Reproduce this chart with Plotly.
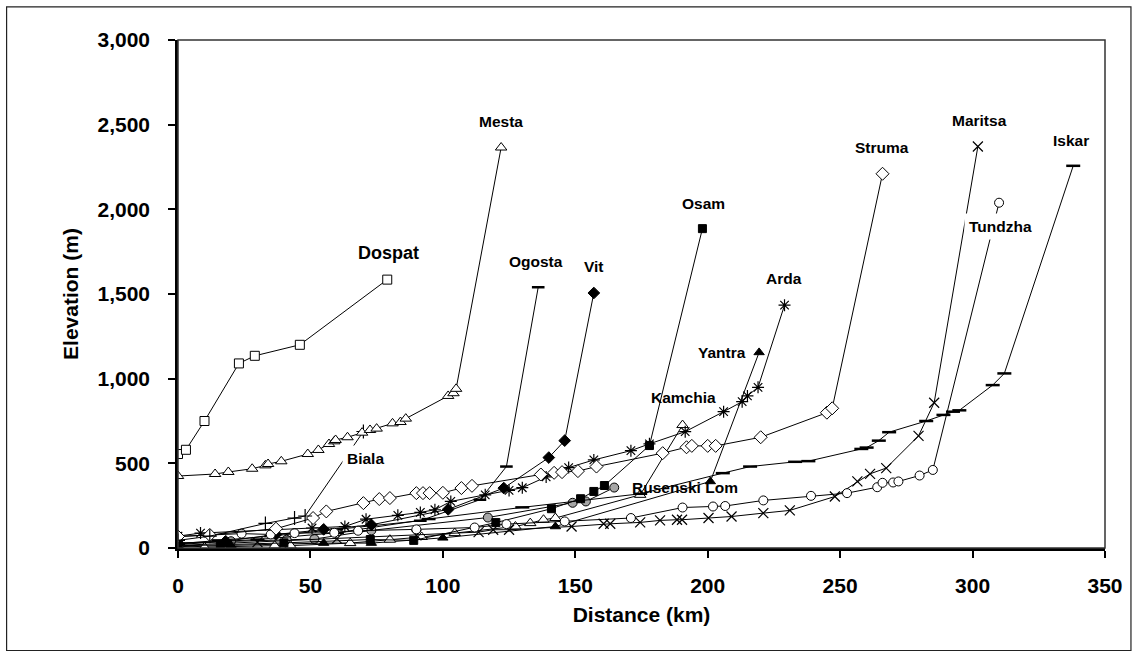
import plotly.graph_objects as go

# River longitudinal profiles: distance from mouth (km) vs elevation (m)
dospat_x = [0, 3, 10, 23, 29, 46, 79]
dospat_y = [555, 580, 750, 1090, 1135, 1200, 1585]

mesta_x = [0, 14, 19, 28, 33, 34, 39, 49, 53, 57, 59, 59.5, 64, 69.5, 72.5, 75, 81, 84, 86, 102, 104, 105, 122]
mesta_y = [425, 437, 449, 468, 488, 496, 512, 555, 579, 614, 630, 638, 654, 681, 697, 705, 736, 744, 764, 898, 914, 940, 2365]

biala_x = [0, 12, 33, 44, 48, 70]
biala_y = [45, 70, 145, 177, 189, 688]

ogosta_x = [0, 15, 35, 60, 91.5, 114, 124, 136]
ogosta_y = [25, 45, 70, 110, 161, 285, 481, 1540]

vit_x = [0, 18, 37, 55, 73, 102, 123, 140, 146, 157]
vit_y = [20, 40, 80, 110, 137, 228, 354, 534, 634, 1506]

osam_x = [0, 16, 40, 72.6, 89, 120, 141, 152, 157, 161, 178, 198]
osam_y = [12, 19, 30, 50, 45, 150, 232, 291, 334, 369, 605, 1886]

kamchia_x = [0, 10, 36.5, 42.5, 65, 80, 92, 104.5, 127.4, 133, 138, 142.5, 174.5, 190.5]
kamchia_y = [20, 5, 14, 14, 29, 49, 65, 88, 127, 147, 167, 177, 314, 726]

yantra_x = [0, 20, 55, 73, 100, 142.5, 201, 219.4]
yantra_y = [8, 15, 29, 29, 60, 127, 393, 1155]

arda_x = [0, 8.5, 50.6, 63, 71, 83, 91.5, 97, 103, 116, 125, 130, 139, 147.5, 157, 171, 178, 191.5, 206, 213, 215, 219, 229]
arda_y = [70, 88, 118, 127, 170, 193, 210, 226, 275, 314, 340, 356, 420, 475, 520, 575, 615, 687, 805, 864, 898, 949, 1434]

rusenski_x = [0, 20, 41, 51.5, 73, 117, 149, 154, 164.7]
rusenski_y = [30, 40, 49, 53, 104, 180, 267, 275, 357]

struma_x = [0, 12, 37, 51, 56, 70, 76, 80, 90, 92.5, 95, 100, 107, 111, 137, 142, 145, 151, 158, 183, 192, 194, 200, 203, 220, 245, 247, 266]
struma_y = [68, 77, 114, 177, 216, 265, 289, 295, 324, 324, 324, 326, 354, 367, 434, 444, 448, 454, 481, 560, 595, 603, 603, 603, 654, 799, 825, 2210]

tundzha_x = [0, 24, 35, 44, 59, 68, 90, 112, 124, 146, 171, 190.5, 202, 206.6, 221, 239, 252.6, 264, 266, 270, 272, 280, 285, 310]
tundzha_y = [68, 85, 80, 88, 90, 102, 110, 121, 141, 157, 177, 239, 245, 248, 281, 308, 324, 359, 385, 387, 393, 428, 461, 2039]

maritsa_x = [0, 30, 60, 90, 113.5, 119, 125, 148.6, 160.7, 163.2, 174.5, 182, 188.4, 190.3, 200.3, 209, 221, 231, 248, 256.5, 261.3, 267.4, 279.6, 285.5, 302]
maritsa_y = [15, 35, 55, 75, 94, 108, 108, 127, 143, 143, 151, 163, 167, 167, 177, 186, 206, 222, 304, 393, 438, 472, 662, 858, 2371]

iskar_x = [0, 30, 60, 94.6, 130, 174.5, 205.7, 216, 233, 238, 258, 260, 264.6, 268.5, 282.5, 289, 292.6, 295, 307.6, 312, 338]
iskar_y = [25, 50, 90, 171, 240, 320, 442, 481, 509, 513, 585, 593, 634, 684, 750, 786, 805, 813, 962, 1031, 2257]

# (name, x, y, symbol, fill colour, marker line width, size)
series = [
    ("Rusenski Lom", rusenski_x, rusenski_y, "circle", "#a6a6a6", 1, 9),
    ("Yantra", yantra_x, yantra_y, "triangle-up", "black", 1, 9),
    ("Kamchia", kamchia_x, kamchia_y, "triangle-up", "white", 1, 10),
    ("Osam", osam_x, osam_y, "square", "black", 1, 8),
    ("Vit", vit_x, vit_y, "diamond", "black", 1, 9),
    ("Ogosta", ogosta_x, ogosta_y, "line-ew-open", "black", 2.5, 9),
    ("Iskar", iskar_x, iskar_y, "line-ew-open", "black", 2.5, 10),
    ("Maritsa", maritsa_x, maritsa_y, "x-thin-open", "black", 1.2, 10),
    ("Tundzha", tundzha_x, tundzha_y, "circle", "white", 1, 9),
    ("Arda", arda_x, arda_y, "asterisk-open", "black", 1.2, 10),
    ("Struma", struma_x, struma_y, "diamond", "white", 1, 10),
    ("Biala", biala_x, biala_y, "cross-thin-open", "black", 1.2, 10),
    ("Mesta", mesta_x, mesta_y, "triangle-up", "white", 1, 10),
    ("Dospat", dospat_x, dospat_y, "square", "white", 1, 9),
]

fig = go.Figure()
for name, xs, ys, sym, fill, mlw, size in series:
    fig.add_trace(go.Scatter(
        x=xs, y=ys, name=name, mode="lines+markers",
        line=dict(color="black", width=1),
        marker=dict(symbol=sym, size=size, color=fill,
                    line=dict(color="black", width=mlw)),
    ))

FONT = "Liberation Sans, Arial, sans-serif"

# River name labels: (text, x, y, font size, white box)
labels = [
    ("Dospat", 79.5, 1742, 18, False),
    ("Mesta", 122, 2520, 15.5, False),
    ("Ogosta", 135.3, 1693, 15.5, False),
    ("Vit", 156.9, 1660, 15.5, False),
    ("Osam", 198.4, 2037, 15.5, False),
    ("Arda", 228.9, 1591, 15.5, False),
    ("Yantra", 205.4, 1155, 15.5, False),
    ("Kamchia", 190.9, 888, 15.5, False),
    ("Rusenski Lom", 191.4, 357, 15.5, False),
    ("Struma", 265.7, 2367, 15.5, False),
    ("Maritsa", 302.6, 2524, 15.5, False),
    ("Iskar", 337, 2407, 15.5, False),
    ("Tundzha", 310.6, 1896, 15.5, True),
    ("Biala", 70.8, 530, 15.5, True),
]
for text, lx, ly, fs, box in labels:
    fig.add_annotation(
        x=lx, y=ly, text=text, showarrow=False,
        font=dict(family=FONT, size=fs, color="black", weight="bold"),
        bgcolor="white" if box else "rgba(0,0,0,0)", borderpad=4 if box else 0,
        xanchor="center", yanchor="middle",
    )

# Frame of the plot area and outer chart border
fig.add_shape(type="rect", xref="paper", yref="paper", x0=0, x1=1, y0=0, y1=1,
              line=dict(color="#333333", width=1.5), layer="above")
fig.add_shape(type="rect", xref="paper", yref="paper",
              x0=-0.1849, x1=1.028, y0=-0.2018, y1=1.0654,
              line=dict(color="#222222", width=1.2), layer="below")

fig.update_layout(
    width=1136, height=657,
    margin=dict(l=177.5, r=31, t=39.5, b=108.5),
    paper_bgcolor="white", plot_bgcolor="white",
    showlegend=False,
    font=dict(family=FONT, color="black"),
)
fig.update_xaxes(
    range=[0, 350], dtick=50, tick0=0,
    showgrid=False, zeroline=False,
    showline=True, linecolor="black", linewidth=2.5,
    ticks="outside", ticklen=7, tickwidth=1.5, tickcolor="black",
    tickfont=dict(family=FONT, size=21, weight="bold"),
    ticklabelstandoff=10,
    title=dict(text="Distance (km)", font=dict(family=FONT, size=21, weight="bold"), standoff=12),
)
fig.update_yaxes(
    range=[0, 3000], dtick=500, tick0=0, tickformat=",d",
    showgrid=False, zeroline=False,
    showline=True, linecolor="black", linewidth=2.5,
    ticks="outside", ticklen=7, tickwidth=1.5, tickcolor="black",
    tickfont=dict(family=FONT, size=21, weight="bold"),
    ticklabelstandoff=14,
    title=dict(text="Elevation (m)", font=dict(family=FONT, size=21, weight="bold"), standoff=14),
)

fig.write_html("out.html")
